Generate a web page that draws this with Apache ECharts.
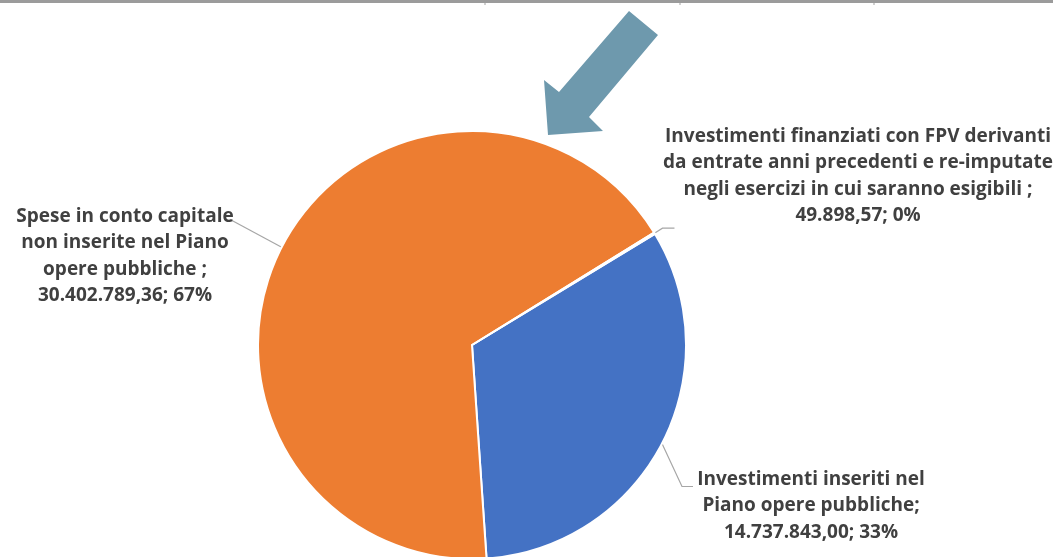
<!DOCTYPE html>
<html><head><meta charset="utf-8">
<script src="https://cdn.jsdelivr.net/npm/echarts@6/dist/echarts.min.js"></script>
<style>html,body{margin:0;padding:0;background:#fff}#c{width:1053px;height:557px}</style>
</head><body><div id="c"></div>
<script>
const categories = [
  "Investimenti inseriti nel\nPiano opere pubbliche",
  "Spese in conto capitale\nnon inserite nel Piano\nopere pubbliche ",
  "Investimenti finanziati con FPV derivanti\nda entrate anni precedenti e re-imputate\nnegli esercizi in cui saranno esigibili "
];
const values = [14737843.00, 30402789.36, 49898.57];
const colors = ['#4472C4', '#ED7D31', '#A5A5A5'];

// label placement (text block centers), layout only
const labelCenters = [[811, 506], [125, 256], [858, 176]];

function fmtIt(v) {
  const parts = v.toFixed(2).split('.');
  return parts[0].replace(/\B(?=(\d{3})+(?!\d))/g, '.') + ',' + parts[1];
}

const chart = echarts.init(document.getElementById('c'));
chart.setOption({
  animation: false,
  graphic: [
    { type: 'rect', shape: { x: 0, y: 0, width: 1053, height: 3 }, style: { fill: '#9B9B9B' } },
    { type: 'rect', shape: { x: 484, y: 3, width: 2, height: 2 }, style: { fill: '#D0D0D0' } },
    { type: 'rect', shape: { x: 679, y: 3, width: 2, height: 2 }, style: { fill: '#D0D0D0' } },
    { type: 'rect', shape: { x: 873, y: 3, width: 2, height: 2 }, style: { fill: '#D0D0D0' } },
    { type: 'polygon', shape: { points: [[548,135],[544,80],[559,92],[629,11],[658,35],[589,117],[603,131]] }, style: { fill: '#6E99AD' } }
  ],
  series: [{
    type: 'pie',
    center: [472, 345],
    radius: 214,
    startAngle: 31.3,
    clockwise: true,
    data: categories.map((n, i) => ({ name: n, value: values[i], itemStyle: { color: colors[i] } })),
    itemStyle: { borderColor: '#fff', borderWidth: 2 },
    label: {
      show: true,
      formatter: p => p.name + ';\n' + fmtIt(p.value) + '; ' + Math.round(p.percent) + '%',
      fontFamily: 'Open Sans',
      fontWeight: 'bold',
      fontSize: 19,
      lineHeight: 26.5,
      color: '#404040',
      align: 'center',
      overflow: 'none'
    },
    labelLine: { show: true, length: 15, length2: 10, lineStyle: { color: '#A6A6A6', width: 1.2 } },
    labelLayout: function (p) {
      const c = labelCenters[p.dataIndex];
      const s = p.labelLinePoints ? p.labelLinePoints[0] : null;
      const out = { x: c[0], y: c[1], align: 'center', verticalAlign: 'middle' };
      if (s) {
        if (p.dataIndex === 0) {
          out.labelLinePoints = [s, [s[0] + 20, s[1] + 43], [s[0] + 31, s[1] + 43]];
        } else if (p.dataIndex === 1) {
          out.labelLinePoints = [s, [s[0] - 26, s[1] - 14], [s[0] - 52, s[1] - 28]];
        } else {
          out.labelLinePoints = [s, [s[0] + 8, s[1] - 5], [s[0] + 20, s[1] - 5]];
        }
      }
      return out;
    }
  }]
});
</script></body></html>
